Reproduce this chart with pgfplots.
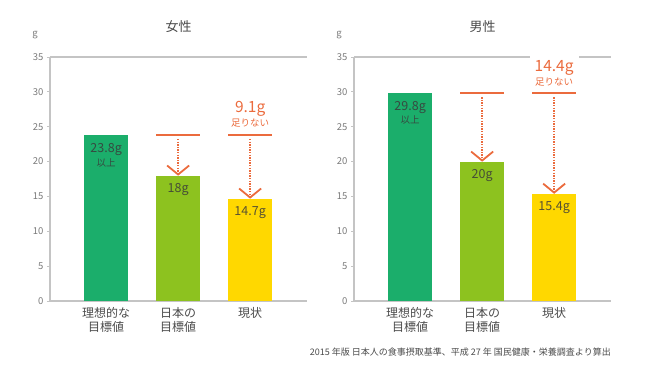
\documentclass[border=0pt]{standalone}
\usepackage{fontspec}
\setmainfont{Noto Sans CJK JP}
\usepackage{pgfplots}
\pgfplotsset{compat=1.18}
\definecolor{cGreen}{HTML}{1BAE6B}
\definecolor{cLime}{HTML}{8DC21F}
\definecolor{cYellow}{HTML}{FFD800}
\definecolor{cOrange}{HTML}{EB6B3D}
\definecolor{axgray}{HTML}{C4C4C4}
\definecolor{tickgray}{HTML}{7A7A7A}
\definecolor{labgray}{HTML}{4A4A4A}
\definecolor{valtext}{HTML}{3A3A3A}
\pgfplotsset{
  panel/.style={
    anchor=south west, scale only axis, width=257pt, height=244pt,
    xmin=-0.78, xmax=2.79, ymin=0, ymax=35,
    axis lines=left, axis line style={-, draw=axgray, line width=1.4pt},
    ytick={0,5,...,35}, xtick={0,1,2},
    xticklabels={{理想的な\\目標値},{日本の\\目標値},{現状}},
    x tick style={draw=none}, y tick style={draw=axgray, line width=0.8pt},
    tick align=outside, major tick length=3pt,
    yticklabel style={font=\fontsize{9.5}{10}\selectfont, text=tickgray},
    xticklabel style={align=center, font=\fontsize{12}{13.5}\selectfont, text=labgray},
    /pgf/number format/assume math mode=true,
    title style={font=\fontsize{13}{13}\selectfont, text=labgray, at={(0.5,1)}, anchor=center, yshift=24pt},
    clip=false,
  },
  mybar/.style={ybar, bar width=44pt, bar shift=0pt, draw=none, fill=#1},
}
\tikzset{
  val/.style={text=valtext, text opacity=0.85, font=\fontsize{12.5}{13}\selectfont},
  valsmall/.style={text=valtext, text opacity=0.85, font=\fontsize{9.5}{10}\selectfont},
  ann/.style={draw=cOrange, line width=1.8pt},
  dots/.style={draw=cOrange, line width=1.8pt, dash pattern=on 1.3pt off 1.3pt},
}
\begin{document}
\begin{tikzpicture}
\path[use as bounding box] (0,0) rectangle (650pt,374pt);
% ---------- 女性 ----------
\begin{axis}[panel, at={(50pt,73pt)}, title={女性}]
  \draw[axgray, line width=1.4pt] (rel axis cs:0,1) -- (rel axis cs:1,1);
  \node[text=tickgray, font=\fontsize{9.5}{10}\selectfont] at ([xshift=-15pt,yshift=22pt]rel axis cs:0,1) {g};
  \addplot[mybar=cGreen] coordinates {(0,23.8)};
  \addplot[mybar=cLime] coordinates {(1,18)};
  \addplot[mybar=cYellow] coordinates {(2,14.7)};
  \node[val] at ([yshift=-14pt]axis cs:0,23.8) {23.8g};
  \node[valsmall] at ([yshift=-28pt]axis cs:0,23.8) {以上};
  \node[val] at ([yshift=-14pt]axis cs:1,18) {18g};
  \node[val] at ([yshift=-14pt]axis cs:2,14.7) {14.7g};
  % arrows
  \draw[ann] ([xshift=-22pt]axis cs:1,23.8) -- ([xshift=22pt]axis cs:1,23.8);
  \draw[dots] ([yshift=-4pt]axis cs:1,23.8) -- ([yshift=2pt]axis cs:1,18);
  \draw[ann] ([xshift=-11pt,yshift=10pt]axis cs:1,18) -- ([yshift=1pt]axis cs:1,18) -- ([xshift=11pt,yshift=10pt]axis cs:1,18);
  \draw[ann] ([xshift=-22pt]axis cs:2,23.8) -- ([xshift=22pt]axis cs:2,23.8);
  \draw[dots] ([yshift=-4pt]axis cs:2,23.8) -- ([yshift=2pt]axis cs:2,14.7);
  \draw[ann] ([xshift=-11pt,yshift=10pt]axis cs:2,14.7) -- ([yshift=1pt]axis cs:2,14.7) -- ([xshift=11pt,yshift=10pt]axis cs:2,14.7);
  \node[text=cOrange, font=\fontsize{15.5}{16}\selectfont] at ([yshift=26pt]axis cs:2,23.8) {9.1g};
  \node[text=cOrange, font=\fontsize{9.5}{10}\selectfont] at ([yshift=12pt]axis cs:2,23.8) {足りない};
\end{axis}
% ---------- 男性 ----------
\begin{axis}[panel, at={(354pt,73pt)}, title={男性}]
  \draw[axgray, line width=1.4pt] (rel axis cs:0,1) -- (rel axis cs:1,1);
  \node[text=tickgray, font=\fontsize{9.5}{10}\selectfont] at ([xshift=-15pt,yshift=22pt]rel axis cs:0,1) {g};
  \addplot[mybar=cGreen] coordinates {(0,29.8)};
  \addplot[mybar=cLime] coordinates {(1,20)};
  \addplot[mybar=cYellow] coordinates {(2,15.4)};
  \node[val] at ([yshift=-14pt]axis cs:0,29.8) {29.8g};
  \node[valsmall] at ([yshift=-27pt]axis cs:0,29.8) {以上};
  \node[val] at ([yshift=-14pt]axis cs:1,20) {20g};
  \node[val] at ([yshift=-14pt]axis cs:2,15.4) {15.4g};
  \draw[ann] ([xshift=-22pt]axis cs:1,29.8) -- ([xshift=22pt]axis cs:1,29.8);
  \draw[dots] ([yshift=-4pt]axis cs:1,29.8) -- ([yshift=2pt]axis cs:1,20);
  \draw[ann] ([xshift=-11pt,yshift=10pt]axis cs:1,20) -- ([yshift=1pt]axis cs:1,20) -- ([xshift=11pt,yshift=10pt]axis cs:1,20);
  \draw[ann] ([xshift=-22pt]axis cs:2,29.8) -- ([xshift=22pt]axis cs:2,29.8);
  \draw[dots] ([yshift=-4pt]axis cs:2,29.8) -- ([yshift=2pt]axis cs:2,15.4);
  \draw[ann] ([xshift=-11pt,yshift=10pt]axis cs:2,15.4) -- ([yshift=1pt]axis cs:2,15.4) -- ([xshift=11pt,yshift=10pt]axis cs:2,15.4);
  \node[fill=white, inner xsep=5pt, inner ysep=5pt, text=cOrange, font=\fontsize{15.5}{16}\selectfont] at ([yshift=25pt]axis cs:2,29.8) {14.4g};
  \node[text=cOrange, font=\fontsize{9.5}{10}\selectfont] at ([yshift=11pt]axis cs:2,29.8) {足りない};
  \node[anchor=east, text=labgray, font=\fontsize{9}{10}\selectfont, inner sep=0pt] at ([yshift=-51pt]rel axis cs:1,0) {2015 年版 日本人の食事摂取基準、平成 27 年 国民健康・栄養調査より算出};
\end{axis}
\end{tikzpicture}
\end{document}
